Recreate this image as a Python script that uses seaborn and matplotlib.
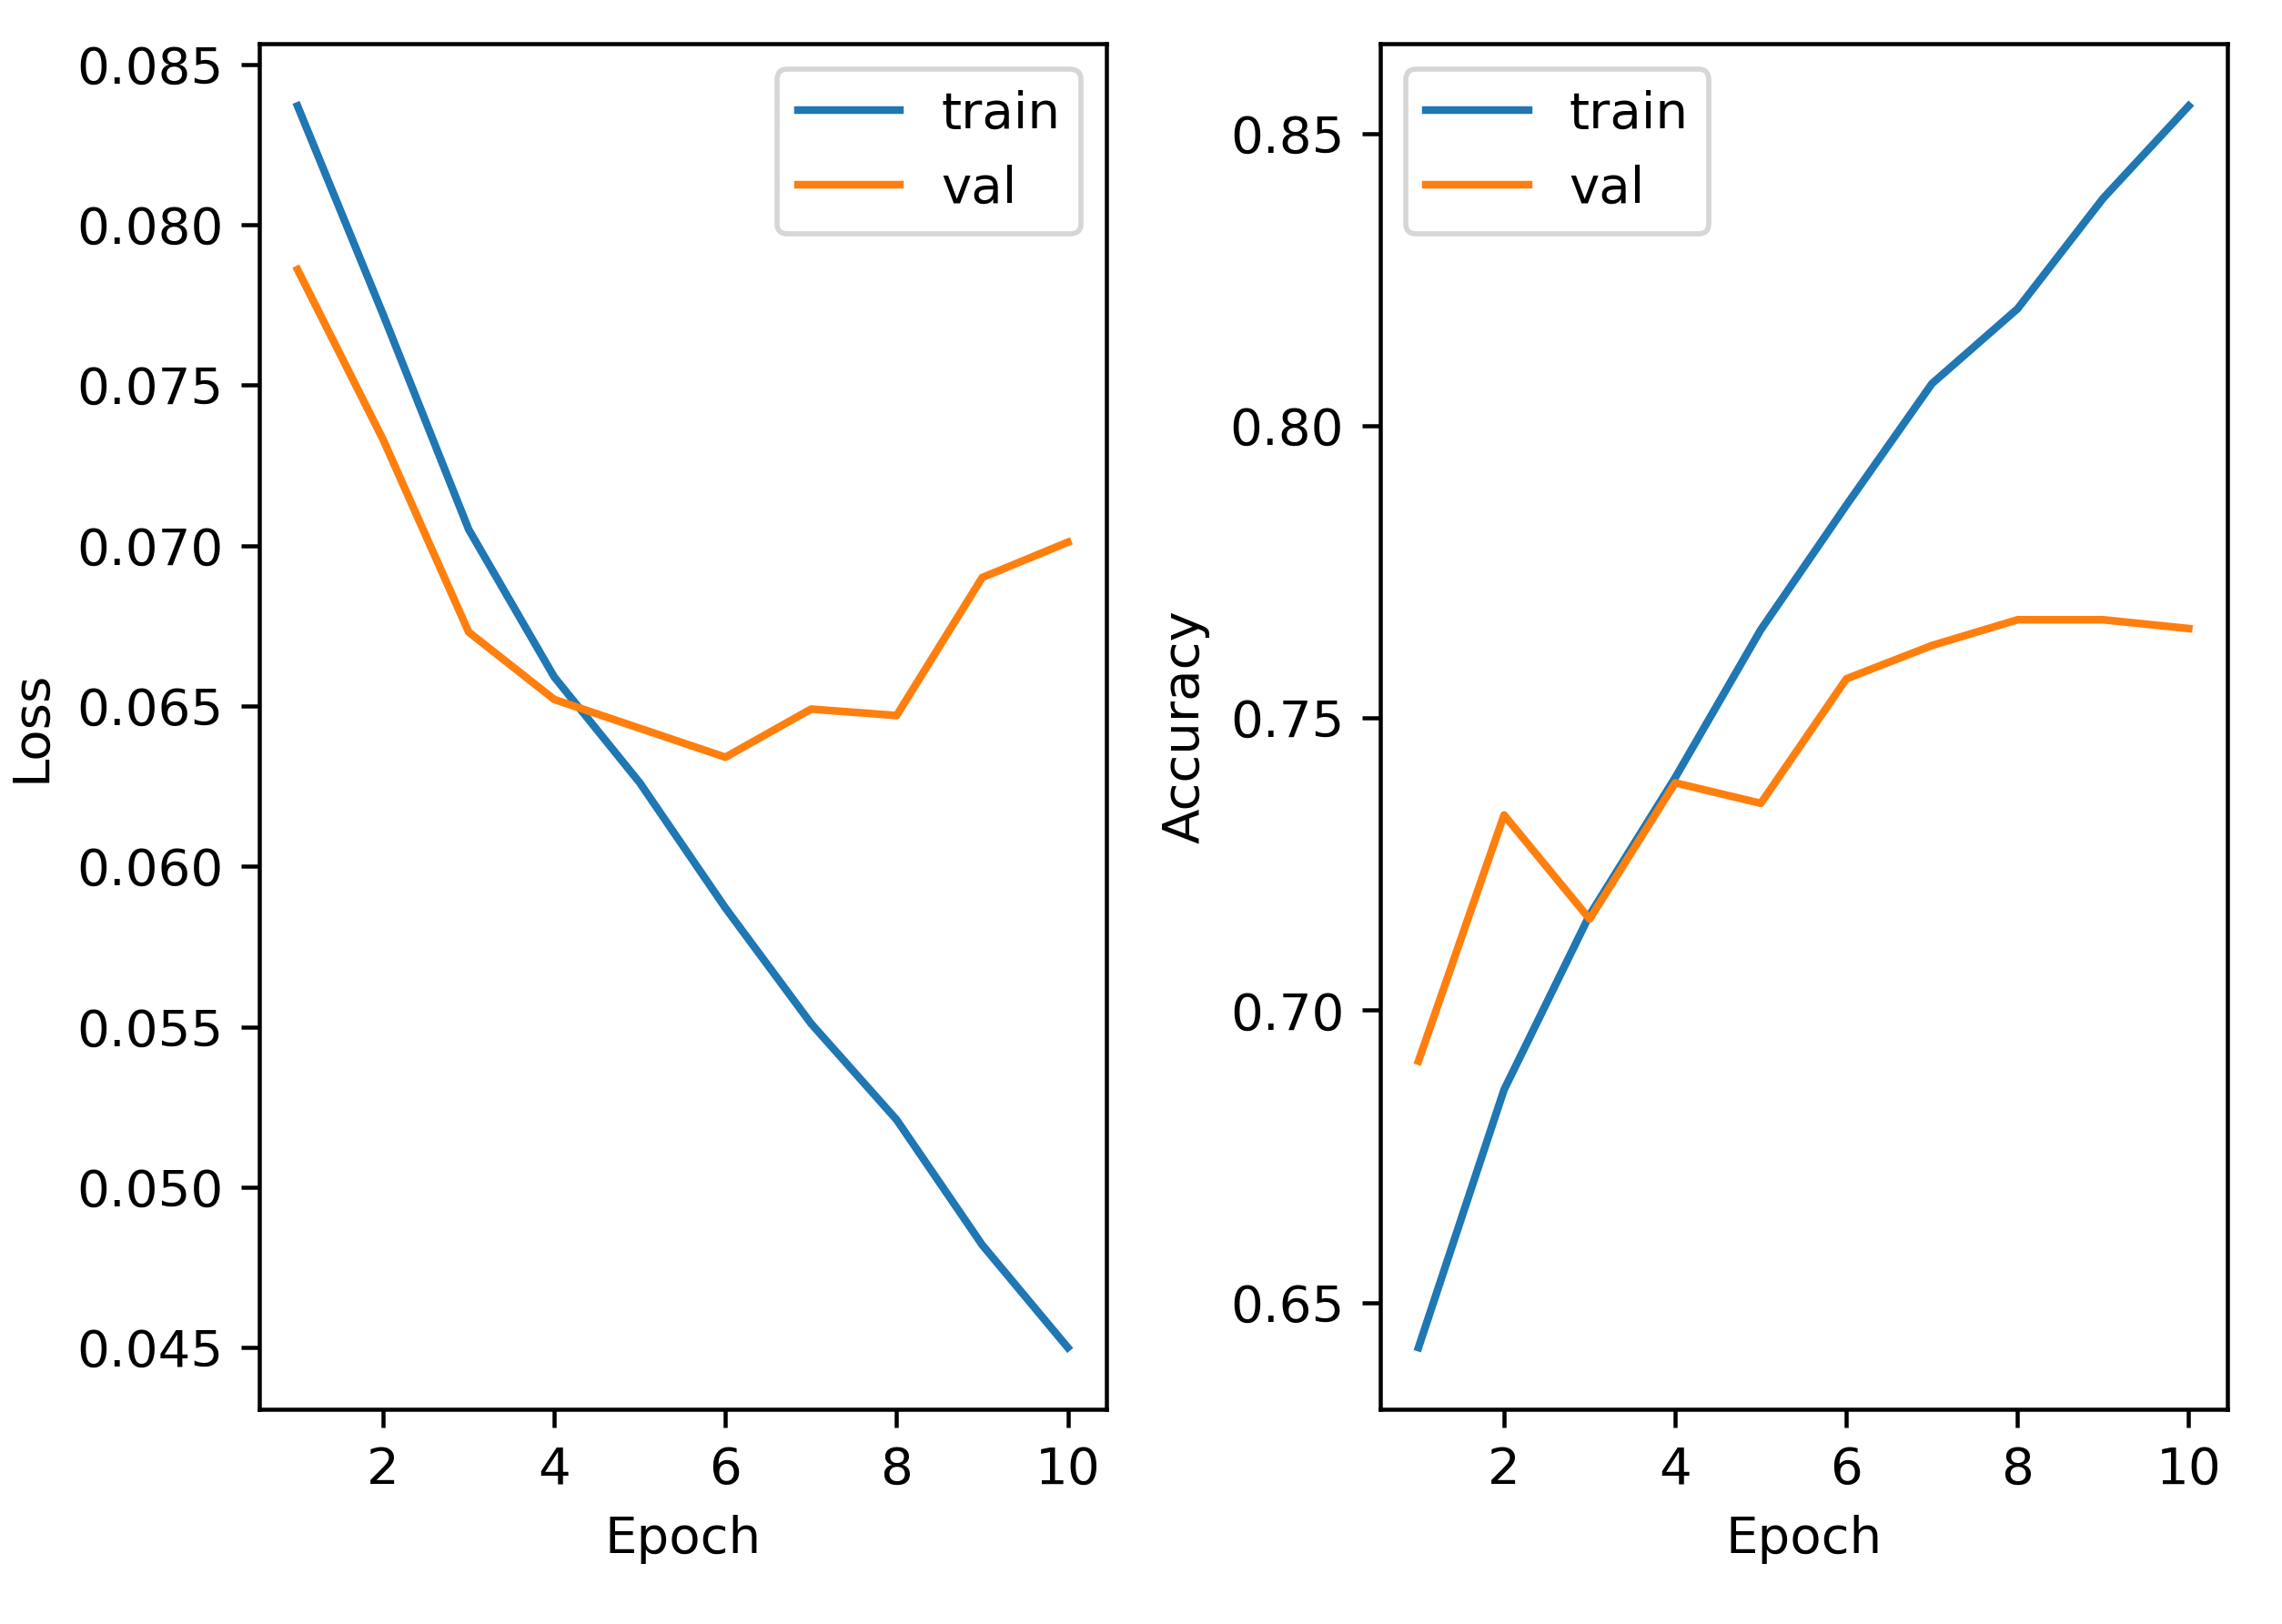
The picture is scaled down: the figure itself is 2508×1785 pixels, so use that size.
import pandas as pd
import matplotlib
matplotlib.use("Agg")
import matplotlib.pyplot as plt
import seaborn as sns

epochs = list(range(1, 11))
train_loss = [0.0837, 0.0772, 0.0705, 0.0659, 0.0626, 0.0587, 0.0551, 0.0521, 0.0482, 0.0450]
val_loss = [0.0786, 0.0733, 0.0673, 0.0652, 0.0643, 0.0634, 0.0649, 0.0647, 0.0690, 0.0701]
train_acc = [0.6423, 0.6864, 0.7163, 0.7398, 0.7651, 0.7864, 0.8072, 0.8200, 0.8389, 0.8547]
val_acc = [0.6913, 0.7334, 0.7156, 0.7389, 0.7354, 0.7567, 0.7624, 0.7668, 0.7668, 0.7653]

loss_df = pd.DataFrame({
    "Epoch": epochs * 2,
    "Loss": train_loss + val_loss,
    "split": ["train"] * 10 + ["val"] * 10,
})
acc_df = pd.DataFrame({
    "Epoch": epochs * 2,
    "Accuracy": train_acc + val_acc,
    "split": ["train"] * 10 + ["val"] * 10,
})

palette = ["#1f77b4", "#ff7f0e"]

# small figure at high dpi so text and lines come out bigger
DPI = 405
fig, axes = plt.subplots(1, 2, figsize=(2508 / DPI, 1785 / DPI), dpi=DPI)

sns.lineplot(data=loss_df, x="Epoch", y="Loss", hue="split", palette=palette, ax=axes[0])
axes[0].legend(loc="upper right")

sns.lineplot(data=acc_df, x="Epoch", y="Accuracy", hue="split", palette=palette, ax=axes[1])
axes[1].legend(loc="upper left")

for ax in axes:
    ax.set_xticks([2, 4, 6, 8, 10])

plt.subplots_adjust(left=0.1135, right=0.976, bottom=0.132, top=0.973, wspace=0.323)
plt.savefig("out.png", dpi=DPI)
